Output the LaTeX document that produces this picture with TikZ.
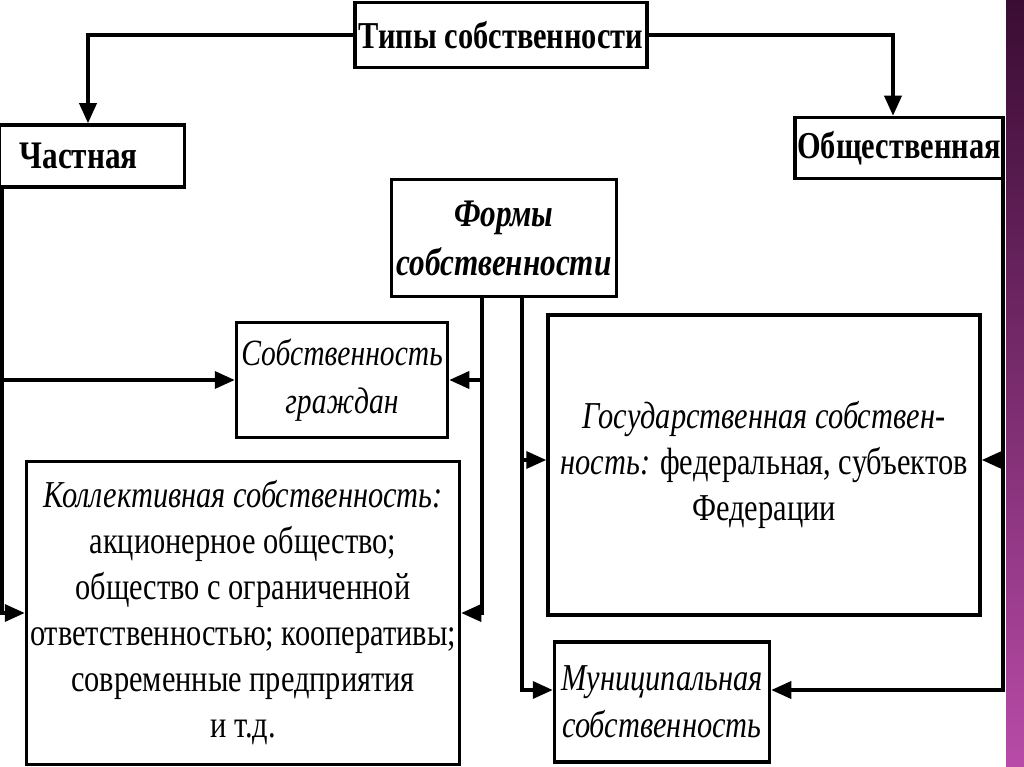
\documentclass[tikz,border=0pt]{standalone}
\usepackage{fontspec}
\setmainfont{Liberation Serif}[FakeStretch=0.8]
\usetikzlibrary{arrows.meta}
\definecolor{stripetop}{HTML}{3A0C33}
\definecolor{stripemid}{HTML}{7A2C6E}
\definecolor{stripebot}{HTML}{B84BA8}
\begin{document}
\begin{tikzpicture}[x=1pt,y=-1pt,
  box/.style={draw,line width=3.5pt,rectangle,inner sep=0pt,align=center,
    font=\fontsize{38}{46}\selectfont},
  conn/.style={line width=3.5pt},
  arr/.style={conn,-{Triangle[length=20pt,width=17pt]}}]
\useasboundingbox (0,0) rectangle (1024,767);
\fill[white] (0,0) rectangle (1024,767);
\shade[top color=stripetop,middle color=stripemid,bottom color=stripebot] (1006,0) rectangle (1024,767);

% nodes
\node[box,minimum width=292,minimum height=65,font=\fontsize{38}{46}\selectfont\bfseries] (tipy) at (501,35) {Типы собственности};
\node[box,minimum width=185,minimum height=62,inner xsep=20pt,text width=145pt,align=left,font=\fontsize{39}{46}\selectfont\bfseries] (chast) at (92,156) {Частная};
\node[box,minimum width=208,minimum height=61,font=\fontsize{38}{46}\selectfont\bfseries] (obsh) at (899,148) {Общественная};
\node[box,minimum width=225,minimum height=117,font=\fontsize{39}{49}\selectfont\bfseries\itshape] (formy) at (504,238) {Формы\\собственности};
\node[box,minimum width=211,minimum height=115,font=\fontsize{37}{48}\selectfont\itshape] (sobgr) at (342,380) {Собственность\\граждан};
\node[box,minimum width=433,minimum height=303] (koll) at (243,613)
  {{\itshape Коллективная собственность:}\\акционерное общество;\\общество с ограниченной\\ответственностью; кооперативы;\\современные предприятия\\и т.д.};
\node[box,minimum width=432,minimum height=300] (gos) at (764,465)
  {{\itshape Государственная собствен-}\\{\itshape ность:} федеральная, субъектов\\Федерации};
\node[box,minimum width=215,minimum height=120,font=\fontsize{38}{47}\selectfont\itshape] (mun) at (662,702) {Муниципальная\\собственность};

% trunk coordinates
\coordinate (L) at ([xshift=4pt]chast.south west);
\coordinate (F1) at ([xshift=-22pt]formy.south);
\coordinate (F2) at ([xshift=18pt]formy.south);
\coordinate (R) at ([xshift=-2pt]obsh.south east);

% connectors
\draw[arr] (tipy.west) -| ([xshift=-4pt]chast.north);
\draw[arr] (tipy.east) -| ([xshift=-6pt]obsh.north);

\draw[arr] (L) |- (koll.west);
\draw[arr] (L |- sobgr.west) -- (sobgr.west);

\draw[arr] (F1) |- (koll.east);
\draw[arr] (F1 |- sobgr.east) -- (sobgr.east);

\draw[arr] (F2) |- ([yshift=12pt]mun.west);
\draw[arr] (F2 |- gos.west) ++(0,-5) -- ([yshift=5pt]gos.west);

\draw[arr] (R) |- ([yshift=12pt]mun.east);
\draw[arr] (R |- gos.east) ++(0,-5) -- ([yshift=5pt]gos.east);
\end{tikzpicture}
\end{document}
